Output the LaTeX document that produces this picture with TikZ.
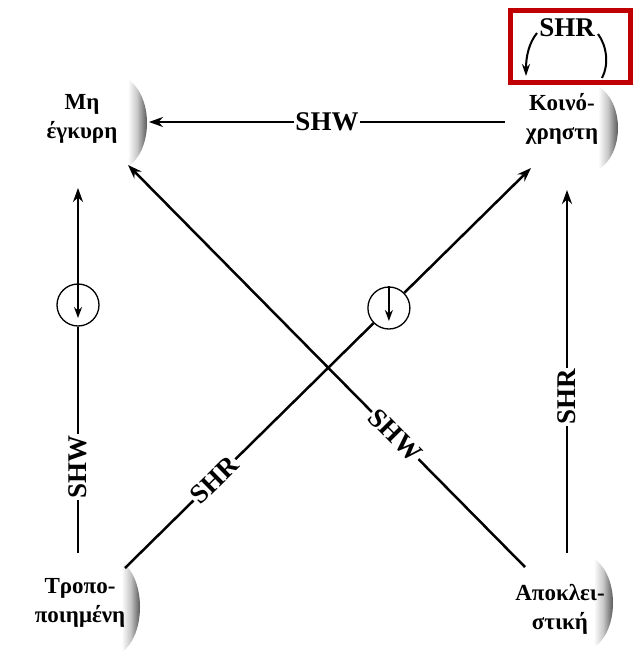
\documentclass[tikz,border=0pt]{standalone}
\usepackage{fontspec}
\setmainfont{Liberation Serif}
\usetikzlibrary{arrows.meta,calc}
\definecolor{boxred}{RGB}{192,0,0}
\pgfdeclarehorizontalshading{cres}{100bp}{color(0bp)=(white); color(25bp)=(white); color(42bp)=(white); color(58bp)=(black!22); color(75bp)=(black!65); color(100bp)=(black!65)}
\begin{document}
\begin{tikzpicture}[x=1pt,y=-1pt,
  state/.style={font=\bfseries\fontsize{23}{29}\selectfont, align=center, inner sep=0pt},
  lab/.style={font=\bfseries\fontsize{27}{30}\selectfont, fill=white, inner sep=1.5pt},
  conn/.style={line width=2.5pt, -{Stealth[length=14pt,width=10pt]}},
  seg/.style={line width=2.5pt},
  ring/.style={circle, draw, line width=1.3pt, minimum size=42pt, inner sep=0pt},
  smallarrow/.style={line width=1.5pt, -{Stealth[length=11pt,width=8pt]}},
  loopline/.style={line width=2pt},
  crescent/.style={shading=cres}
]
\useasboundingbox (0,0) rectangle (639,658);

% shaded crescents
\shade[crescent] (118,77) arc[start angle=-90,end angle=90,x radius=29,y radius=46] -- cycle;
\shade[crescent] (588,84) arc[start angle=-90,end angle=90,x radius=30,y radius=44] -- cycle;
\shade[crescent] (112,559) arc[start angle=-90,end angle=90,x radius=28,y radius=48] -- cycle;
\shade[crescent] (584,556) arc[start angle=-90,end angle=90,x radius=29,y radius=47] -- cycle;

% states
\node[state] (mh) at (82,119) {Μη\\έγκυρη};
\node[state] (ko) at (562,119) {Κοινό-\\χρηστη};
\node[state] (tr) at (80,603) {Τροπο-\\ποιημένη};
\node[state] (ap) at (560,609) {Αποκλει-\\στική};

% ports
\coordinate (mh-r) at (149,122);
\coordinate (mh-b) at (78,188);
\coordinate (mh-d) at (128,165);
\coordinate (ko-l) at (505,122);
\coordinate (ko-b) at (567,190);
\coordinate (ko-d) at (531,168);
\coordinate (tr-t) at (78,553);
\coordinate (tr-d) at (125,568);
\coordinate (ap-t) at (567,553);
\coordinate (ap-d) at (525,567);

% Κοινόχρηστη -> Μη έγκυρη
\draw[conn] (ko-l) -- node[lab, pos=0.5] {SHW} (mh-r);

% Αποκλειστική -> Κοινόχρηστη
\draw[conn] (ap-t) -- node[lab, rotate=90, pos=0.43] {SHR} (ko-b);

% Τροποποιημένη -> Μη έγκυρη
\node[ring] (c1) at (78,305) {};
\draw[seg] (tr-t) -- node[lab, rotate=90, pos=0.38] {SHW} (c1.south);
\draw[conn] (c1.north) -- (mh-b);
\draw[smallarrow] (c1.north) -- ($(c1.center)+(0,13)$);

% Τροποποιημένη -> Κοινόχρηστη
\path (tr-d) -- node[ring, pos=0.65] (c2) {} (ko-d);
\draw[seg] (tr-d) -- node[lab, rotate=44.4, pos=0.36] {SHR} (c2);
\draw[conn] (c2) -- (ko-d);
\draw[smallarrow] (c2.north) -- ($(c2.center)+(0,13)$);

% Αποκλειστική -> Μη έγκυρη
\draw[conn] (ap-d) -- node[lab, rotate=-45.3, pos=0.327] {SHW} (mh-d);

% self loop on Κοινόχρηστη
\node[font=\bfseries\fontsize{27}{30}\selectfont, inner sep=0pt] (loopl) at (567,28) {SHR};
\draw[loopline] (598,34) .. controls (607,46) and (609,65) .. (602,78);
\draw[loopline, -{Stealth[length=12pt,width=8pt]}] (537,33) .. controls (529,43) and (526,56) .. (526,76);

% highlight box
\draw[boxred, line width=5pt] (510,11) rectangle (630,83);
\end{tikzpicture}
\end{document}
